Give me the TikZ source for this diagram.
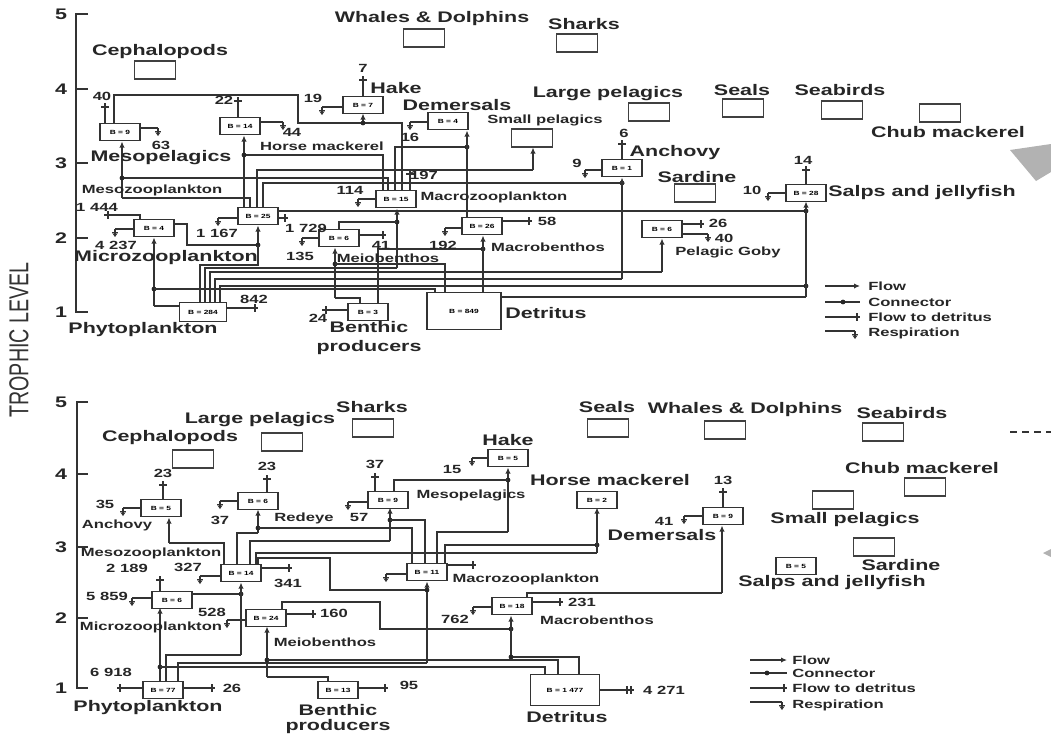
\documentclass[tikz,border=0pt]{standalone}
\usepackage{fontspec}
\newfontfamily\lfont[FakeStretch=1.4]{Liberation Sans}
\newfontfamily\tfont[FakeStretch=0.72]{Liberation Sans}
\usetikzlibrary{arrows.meta}
\tikzset{
 ln/.style={draw=black!80,line width=0.9pt},
 fl/.style={ln,-{Latex[length=4.5pt,width=4pt]}},
 bb/.style={draw=black!80,line width=0.8pt,fill=white,minimum width=30pt,minimum height=12.5pt,inner sep=0pt,font=\lfont\bfseries\fontsize{4.5}{5}\selectfont},
 eb/.style={draw=black!75,line width=0.8pt,minimum width=30.5pt,minimum height=13.5pt,inner sep=0pt},
 lg/.style={inner sep=0pt,text=black!85,font=\lfont\bfseries\fontsize{11.5}{13}\selectfont},
 md/.style={inner sep=0pt,text=black!85,font=\lfont\bfseries\fontsize{8.9}{10}\selectfont},
}
\newcommand{\mydetv}[4]{\draw[ln] (#1,#2)--(#1,#3) (#1-4,#4)--(#1+4,#4);}
\newcommand{\mydeth}[4]{\draw[ln] (#1,#3)--(#2,#3) (#4,#3-4)--(#4,#3+4);}
\newcommand{\myresp}[3]{\draw[ln] (#1,#3)--(#2,#3); \draw[ln,-{Stealth[length=3pt,width=4pt]}] (#2,#3)--(#2,#3+8); \draw[ln,line width=0.6pt] (#2-3,#3+3)--(#2+3,#3+3);}
\newcommand{\mydot}[2]{\fill[black!85] (#1,#2) circle[radius=1.8pt];}
\begin{document}
\begin{tikzpicture}[x=0.75pt,y=-0.75pt]
\useasboundingbox (0,0) rectangle (1051,736);
% ---------- axes ----------
\draw[ln] (88,14)--(76,14)--(76,312)--(88,312);
\foreach \yy in {89,163,238} \draw[ln] (76,\yy)--(88,\yy);
\node[lg] (a5) at (61,14) {5};
\node[lg] (a4) at (61,89) {4};
\node[lg] (a3) at (61,163) {3};
\node[lg] (a2) at (61,238) {2};
\node[lg] (a1) at (61,312) {1};
\draw[ln] (88,402)--(77,402)--(77,688)--(88,688);
\foreach \yy in {474,547,618} \draw[ln] (77,\yy)--(88,\yy);
\node[lg] (b5) at (61,402) {5};
\node[lg] (b4) at (61,474) {4};
\node[lg] (b3) at (61,547) {3};
\node[lg] (b2) at (61,618) {2};
\node[lg] (b1) at (61,688) {1};
\node[rotate=90,inner sep=0pt,text=black!80,font=\tfont\fontsize{20.5}{21}\selectfont] (tl) at (19,340) {TROPHIC LEVEL};

% ================= TOP PANEL connectors =================
\draw[ln] (114,123)--(114,95)--(298,95)--(298,123)--(363,123);
\draw[ln] (402,190)--(402,123)--(363,123);
\draw[fl] (363,123)--(363,113.5); \mydot{363}{123}
\draw[fl] (244,208)--(244,135.5);
\draw[ln] (383,190)--(383,155)--(244,155); \mydot{244}{155}
\draw[ln] (250,208)--(250,198)--(122,198);
\draw[fl] (122,198)--(122,141.5);
\draw[ln] (388,190)--(388,178)--(122,178); \mydot{122}{178}
\draw[ln] (257,208)--(257,170)--(533,170);
\draw[fl] (533,170)--(533,147.5);
\draw[ln] (395,190)--(395,147)--(467,147); \mydot{467}{147}
\draw[fl] (467,217)--(467,130.5);
\draw[ln] (263,208)--(263,183)--(622,183); \mydot{622}{183}
\draw[ln] (215,303)--(215,279)--(622,279);
\draw[fl] (622,279)--(622,177.5);
\draw[ln] (277,211)--(806,211); \mydot{806}{211}
\draw[ln] (220,303)--(220,286)--(806,286); \mydot{806}{286}
\draw[ln] (501,297)--(806,297);
\draw[fl] (806,297)--(806,201.5);
\draw[ln] (173,224)--(187,224)--(187,245)--(258,245);
\draw[fl] (258,245)--(258,225.5); \mydot{258}{245}
\draw[ln] (200,303)--(200,265)--(258,265)--(258,245);
\draw[ln] (205,303)--(205,268)--(397,268);
\draw[fl] (397,268)--(397,208.5); \mydot{397}{222}
\draw[ln] (339,229.5)--(339,222)--(397,222);
\draw[ln] (210,303)--(210,272)--(662,272);
\draw[fl] (662,272)--(662,238.5);
\draw[ln] (180,306)--(154,306);
\draw[fl] (154,306)--(154,237.5); \mydot{154}{289}
\draw[ln] (435,293)--(435,289)--(154,289);
\draw[ln] (360,304)--(360,298)--(335,298);
\draw[fl] (335,298)--(335,247.5); \mydot{335}{264}
\draw[ln] (445,293)--(445,264)--(335,264);
\draw[ln] (378,304)--(378,249)--(483,249); \mydot{483}{249}
\draw[fl] (483,293)--(483,235.5);
% top flows to detritus / respiration
\mydetv{105}{123}{103}{107}
\myresp{140}{158}{128}
\mydetv{238}{117}{97}{101}
\myresp{260}{283}{122}
\mydetv{363}{97}{76}{80}
\myresp{343}{322}{107}
\myresp{428}{410}{122}
\mydetv{622}{160}{140}{144}
\myresp{602}{585}{170}
\mydetv{806}{185}{166}{170}
\myresp{787}{768}{193}
\myresp{240}{218}{218}
\mydeth{277}{288}{218}{285}
\draw[ln] (140,220)--(140,215)--(104,215) (108,211)--(108,219);
\myresp{135}{115}{229}
\myresp{320}{302}{238}
\mydeth{358}{386}{235}{383}
\myresp{376}{358}{199}
\mydetv{410}{190}{170}{174}
\mydeth{502}{532}{221}{529}
\myresp{462}{445}{228}
\mydeth{683}{704}{224}{701}
\myresp{683}{708}{234}
\mydeth{227}{258}{308}{255}
\mydeth{348}{322}{310}{326}

% top boxes
\node[bb] (mp1) at (120,132) {B = 9};
\node[bb] (hm1) at (240,126) {B = 14};
\node[bb] (hk1) at (363,105) {B = 7};
\node[bb] (dm1) at (448,121) {B = 4};
\node[bb] (an1) at (622,168) {B = 1};
\node[bb] (sj1) at (806,193) {B = 28};
\node[bb] (mz1) at (258,216) {B = 25};
\node[bb] (mi1) at (154,228) {B = 4};
\node[bb] (ma1) at (396,199) {B = 15};
\node[bb] (me1) at (339,238) {B = 6};
\node[bb] (mb1) at (482,226) {B = 26};
\node[bb] (pg1) at (662,229) {B = 6};
\node[bb,minimum width=35pt,minimum height=14pt] (ph1) at (203,312) {B = 284};
\node[bb] (bp1) at (368,312) {B = 3};
\node[bb,minimum width=55.5pt,minimum height=27.75pt] (de1) at (464,311) {B = 849};
\node[eb] (cp1) at (155,70) {};
\node[eb] (wd1) at (424,38) {};
\node[eb] (sh1) at (577,43) {};
\node[eb] (sp1) at (532,138) {};
\node[eb] (lp1) at (649,112) {};
\node[eb] (se1) at (743,108) {};
\node[eb] (sb1) at (842,110) {};
\node[eb] (cm1) at (940,113) {};
\node[eb] (sa1) at (695,193) {};

% top labels
\node[lg] (tCeph) at (160,52) {Cephalopods};
\node[lg] (tWh) at (432,19) {Whales \& Dolphins};
\node[lg] (tSh) at (584,24) {Sharks};
\node[lg] (tHake) at (396,88) {Hake};
\node[lg] (tDem) at (457,105) {Demersals};
\node[md] (tSP) at (545,120) {Small pelagics};
\node[lg] (tLP) at (608,94) {Large pelagics};
\node[lg] (tAn) at (675,153) {Anchovy};
\node[lg] (tSar) at (697,177) {Sardine};
\node[lg] (tSeal) at (742,90) {Seals};
\node[lg] (tSb) at (840,90) {Seabirds};
\node[lg] (tChub) at (948,132) {Chub mackerel};
\node[lg] (tSalp) at (922,193) {Salps and jellyfish};
\node[lg] (tMp) at (161,158) {Mesopelagics};
\node[md] (tHm) at (322,146) {Horse mackerel};
\node[md] (tMz) at (152,190) {Mesozooplankton};
\node[lg] (tMi) at (166,258) {Microzooplankton};
\node[lg] (tPh) at (143,330) {Phytoplankton};
\node[md] (tMa) at (494,197) {Macrozooplankton};
\node[md] (tMe) at (388,258) {Meiobenthos};
\node[md] (tMb) at (548,247) {Macrobenthos};
\node[md] (tPg) at (728,252) {Pelagic Goby};
\node[lg,align=center,font=\lfont\bfseries\fontsize{11.5}{14.25}\selectfont] (tBp) at (369,338) {Benthic\\producers};
\node[lg] (tDe) at (546,313) {Detritus};
% top numbers
\node[md] (n1) at (102,96) {40};
\node[md] (n2) at (161,145) {63};
\node[md] (n3) at (224,100) {22};
\node[md] (n4) at (292,132) {44};
\node[md] (n5) at (363,68) {7};
\node[md] (n6) at (313,98) {19};
\node[md] (n7) at (410,137) {16};
\node[md] (n8) at (624,133) {6};
\node[md] (n9) at (577,163) {9};
\node[md] (n10) at (803,160) {14};
\node[md] (n11) at (752,190) {10};
\node[md] (n12) at (217,233) {1 167};
\node[md] (n13) at (306,228) {1 729};
\node[md] (n14) at (97,207) {1 444};
\node[md] (n15) at (116,245) {4 237};
\node[md] (n16) at (300,256) {135};
\node[md] (n17) at (381,245) {41};
\node[md] (n18) at (350,190) {114};
\node[md] (n19) at (424,175) {197};
\node[md] (n20) at (547,221) {58};
\node[md] (n21) at (443,245) {192};
\node[md] (n22) at (718,223) {26};
\node[md] (n23) at (724,238) {40};
\node[md] (n24) at (254,299) {842};
\node[md] (n25) at (318,318) {24};
% top legend
\draw[fl] (825,286)--(860,286);
\draw[ln] (825,302)--(860,302); \mydot{843}{302}
\mydeth{825}{860}{317}{857}
\myresp{825}{855}{331}
\node[md,anchor=west] (lg1) at (868,286) {Flow};
\node[md,anchor=west] (lg2) at (868,302) {Connector};
\node[md,anchor=west] (lg3) at (868,317) {Flow to detritus};
\node[md,anchor=west] (lg4) at (868,333) {Respiration};
\fill[gray!60] (1010,150)--(1051,144)--(1051,172)--(1036,181)--cycle;

% ================= BOTTOM PANEL connectors =================
\draw[ln] (224,565)--(224,543)--(169,543);
\draw[fl] (169,543)--(169,517.5);
\draw[ln] (237,565)--(237,533)--(258,533);
\draw[fl] (258,533)--(258,509.5); \mydot{258}{528}
\draw[ln] (412,563)--(412,528)--(258,528);
\draw[ln] (250,565)--(250,541)--(390,541);
\draw[fl] (390,541)--(390,507.5); \mydot{390}{520}
\draw[ln] (425,563)--(425,520)--(390,520);
\draw[ln] (437,563)--(437,532)--(508,532);
\draw[fl] (508,532)--(508,467.5); \mydot{508}{480}
\draw[ln] (394,492)--(394,480)--(508,480);
\draw[ln] (445,563)--(445,545)--(597,545); \mydot{597}{545}
\draw[ln] (256,565)--(256,553)--(597,553);
\draw[fl] (597,553)--(597,507.5);
\draw[ln] (258,565)--(258,558)--(330,558)--(330,590)--(427,590);
\draw[fl] (427,663)--(427,581.5); \mydot{427}{590}
\draw[ln] (178,682)--(178,663)--(427,663);
\draw[ln] (527,598)--(527,593)--(722,593);
\draw[fl] (722,593)--(722,525.5);
\draw[ln] (282,610)--(282,602)--(380,602)--(380,629)--(511,629); \mydot{511}{629}
\draw[ln] (579,674)--(579,657)--(511,657);
\draw[fl] (511,657)--(511,615.5); \mydot{511}{657}
\draw[fl] (160,682)--(160,607.5); \mydot{160}{667}
\draw[ln] (545,674)--(545,667)--(160,667);
\draw[ln] (190,594)--(241,594); \mydot{241}{594}
\draw[ln] (166,682)--(166,655)--(241,655);
\draw[fl] (241,655)--(241,582.5);
\draw[ln] (328,682)--(328,677)--(267,677);
\draw[fl] (267,677)--(267,626.5); \mydot{267}{660}
\draw[ln] (558,674)--(558,660)--(267,660);
% bottom flows to detritus / respiration
\mydetv{163}{500}{481}{485}
\myresp{142}{123}{508}
\mydetv{267}{493}{475}{479}
\myresp{238}{220}{501}
\mydetv{375}{492}{473}{477}
\myresp{369}{348}{502}
\myresp{488}{472}{458}
\mydetv{723}{507}{488}{492}
\myresp{703}{684}{516}
\myresp{222}{200}{576}
\mydeth{260}{292}{568}{289}
\mydetv{160}{592}{576}{580}
\myresp{153}{132}{598}
\myresp{247}{227}{620}
\mydeth{285}{316}{614}{313}
\mydeth{143}{117}{688}{120}
\mydeth{183}{215}{688}{212}
\mydeth{358}{388}{688}{385}
\myresp{407}{386}{574}
\mydeth{446}{476}{565}{473}
\mydeth{532}{563}{602}{560}
\myresp{493}{473}{607}
\draw[ln] (600,690)--(634,690) (627,686)--(627,694) (631,686)--(631,694);

% bottom boxes
\node[bb] (an2) at (161,508) {B = 5};
\node[bb] (re2) at (258,501) {B = 6};
\node[bb] (mp2) at (388,500) {B = 9};
\node[bb] (hk2) at (508,458) {B = 5};
\node[bb] (hm2) at (597,500) {B = 2};
\node[bb] (dm2) at (723,516) {B = 9};
\node[bb] (sj2) at (796,566) {B = 5};
\node[bb] (mz2) at (241,573) {B = 14};
\node[bb] (mi2) at (172,600) {B = 6};
\node[bb] (ma2) at (427,572) {B = 11};
\node[bb] (me2) at (266,618) {B = 24};
\node[bb] (mb2) at (512,606) {B = 18};
\node[bb] (ph2) at (163,690) {B = 77};
\node[bb] (bp2) at (338,690) {B = 13};
\node[bb,minimum width=52pt,minimum height=23pt] (de2) at (565,690) {B = 1 477};
\node[eb] (lp2) at (282,442) {};
\node[eb] (cp2) at (193,459) {};
\node[eb] (sh2) at (373,428) {};
\node[eb] (se2) at (608,428) {};
\node[eb] (wd2) at (725,430) {};
\node[eb] (sb2) at (883,432) {};
\node[eb] (cm2) at (925,487) {};
\node[eb] (sp2) at (833,500) {};
\node[eb] (sa2) at (874,547) {};

% bottom labels
\node[lg] (uLP) at (260,420) {Large pelagics};
\node[lg] (uCeph) at (170,438) {Cephalopods};
\node[lg] (uSh) at (372,407) {Sharks};
\node[lg] (uSeal) at (607,407) {Seals};
\node[lg] (uWh) at (745,410) {Whales \& Dolphins};
\node[lg] (uSb) at (902,413) {Seabirds};
\node[lg] (uChub) at (922,468) {Chub mackerel};
\node[lg] (uSP) at (845,520) {Small pelagics};
\node[lg] (uSar) at (901,565) {Sardine};
\node[lg] (uSalp) at (832,583) {Salps and jellyfish};
\node[lg] (uHake) at (508,440) {Hake};
\node[md] (uMp) at (471,495) {Mesopelagics};
\node[lg] (uHm) at (610,480) {Horse mackerel};
\node[lg] (uDem) at (662,535) {Demersals};
\node[md] (uAn) at (117,525) {Anchovy};
\node[md] (uRe) at (304,518) {Redeye};
\node[md] (uMz) at (151,553) {Mesozooplankton};
\node[md] (uMi) at (151,627) {Microzooplankton};
\node[md] (uMe) at (325,642) {Meiobenthos};
\node[md] (uMa) at (526,579) {Macrozooplankton};
\node[md] (uMb) at (597,620) {Macrobenthos};
\node[lg] (uPh) at (148,708) {Phytoplankton};
\node[lg,align=center,font=\lfont\bfseries\fontsize{11.5}{11.5}\selectfont] (uBp) at (338,719) {Benthic\\producers};
\node[lg] (uDe) at (567,717) {Detritus};
% bottom numbers
\node[md] (m1) at (163,473) {23};
\node[md] (m2) at (105,504) {35};
\node[md] (m3) at (267,466) {23};
\node[md] (m4) at (220,520) {37};
\node[md] (m5) at (375,464) {37};
\node[md] (m6) at (359,517) {57};
\node[md] (m7) at (452,469) {15};
\node[md] (m8) at (723,480) {13};
\node[md] (m9) at (664,521) {41};
\node[md] (m10) at (188,567) {327};
\node[md] (m11) at (288,583) {341};
\node[md] (m12) at (127,568) {2 189};
\node[md] (m13) at (107,596) {5 859};
\node[md] (m14) at (212,612) {528};
\node[md] (m15) at (334,613) {160};
\node[md] (m16) at (111,672) {6 918};
\node[md] (m17) at (232,688) {26};
\node[md] (m18) at (409,685) {95};
\node[md] (m19) at (582,602) {231};
\node[md] (m20) at (455,619) {762};
\node[md] (m21) at (664,690) {4 271};
% bottom legend
\draw[fl] (750,660)--(787,660);
\draw[ln] (750,673)--(787,673); \mydot{767}{673}
\mydeth{750}{787}{688}{784}
\myresp{750}{782}{702}
\node[md,anchor=west] (lh1) at (792,660) {Flow};
\node[md,anchor=west] (lh2) at (792,673) {Connector};
\node[md,anchor=west] (lh3) at (792,688) {Flow to detritus};
\node[md,anchor=west] (lh4) at (792,705) {Respiration};
\draw[ln,dash pattern=on 5pt off 4pt] (1010,432)--(1051,432);
\fill[gray!60] (1043,553)--(1051,549)--(1051,557)--cycle;
\end{tikzpicture}
\end{document}
